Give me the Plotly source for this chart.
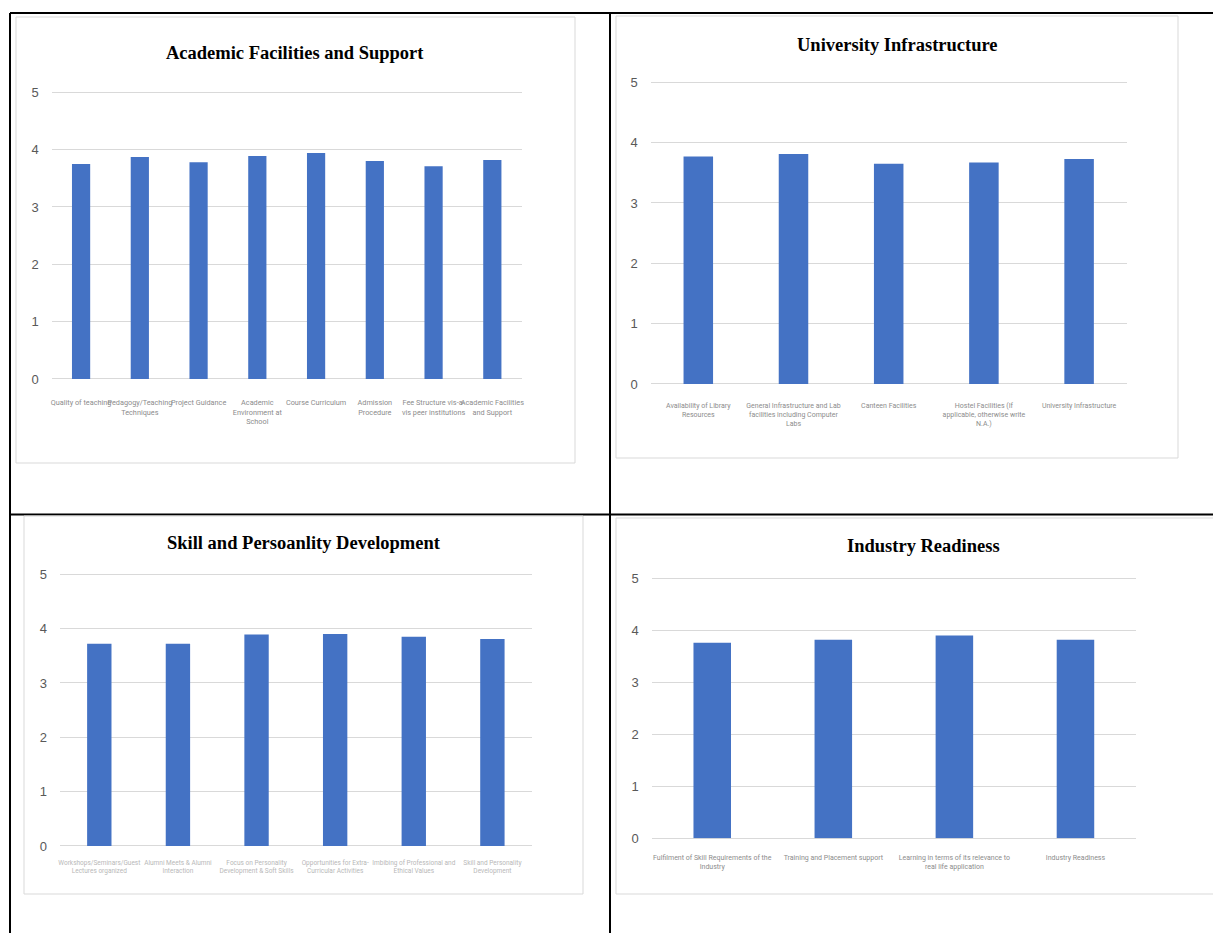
import plotly.graph_objects as go

W, H = 1221, 933
PAGE_MARGIN = 8  # the browser's default body margin shifts the figure by this much

# ---------------- data ----------------
academic_categories = ["Quality of teaching", "Pedagogy/Teaching Techniques", "Project Guidance",
                       "Academic Environment at School", "Course Curriculum", "Admission Procedure",
                       "Fee Structure vis-a-vis peer institutions", "Academic Facilities and Support"]
academic_ticks = ["Quality of teaching", "Pedagogy/Teaching<br>Techniques", "Project Guidance",
                  "Academic<br>Environment at<br>School", "Course Curriculum", "Admission<br>Procedure",
                  "Fee Structure vis-a-<br>vis peer institutions", "Academic Facilities<br>and Support"]
academic_values = [3.75, 3.87, 3.78, 3.89, 3.94, 3.80, 3.71, 3.82]

infra_categories = ["Availability of Library Resources",
                    "General Infrastructure and Lab facilities including Computer Labs",
                    "Canteen Facilities",
                    "Hostel Facilities (If applicable, otherwise write N.A.)",
                    "University Infrastructure"]
infra_ticks = ["Availability of Library<br>Resources",
               "General Infrastructure and Lab<br>facilities including Computer<br>Labs",
               "Canteen Facilities",
               "Hostel Facilities (If<br>applicable, otherwise write<br>N.A.)",
               "University Infrastructure"]
infra_values = [3.77, 3.81, 3.65, 3.67, 3.73]

skill_categories = ["Workshops/Seminars/Guest Lectures organized", "Alumni Meets & Alumni Interaction",
                    "Focus on Personality Development & Soft Skills",
                    "Opportunities for Extra-Curricular Activities",
                    "Imbibing of Professional and Ethical Values", "Skill and Personality Development"]
skill_ticks = ["Workshops/Seminars/Guest<br>Lectures organized", "Alumni Meets &amp; Alumni<br>Interaction",
               "Focus on Personality<br>Development &amp; Soft Skills",
               "Opportunities for Extra-<br>Curricular Activities",
               "Imbibing of Professional and<br>Ethical Values", "Skill and Personality<br>Development"]
skill_values = [3.72, 3.72, 3.89, 3.90, 3.85, 3.81]

industry_categories = ["Fulfilment of Skill Requirements of the Industry", "Training and Placement support",
                       "Learning in terms of its relevance to real life application", "Industry Readiness"]
industry_ticks = ["Fulfilment of Skill Requirements of the<br>Industry", "Training and Placement support",
                  "Learning in terms of its relevance to<br>real life application", "Industry Readiness"]
industry_values = [3.76, 3.82, 3.90, 3.82]

titles = ["Academic Facilities and Support", "University Infrastructure",
          "Skill and Persoanlity Development", "Industry Readiness"]
y_ticks = [0, 1, 2, 3, 4, 5]
Y_MAX = 5.04  # a hair above 5 so the top gridline is drawn

# ---------------- layout helpers ----------------
def X(px):
    return (px - PAGE_MARGIN) / W

def Y(py):
    return 1 - (py - PAGE_MARGIN) / H

BAR = "#4472C4"
GRID = "#d9d9d9"
XFONT = "Liberation Sans Narrow, Roboto, sans-serif"

panels = [
    dict(cats=academic_categories, ticks=academic_ticks, vals=academic_values, title=titles[0],
         plot=(51.7, 521.7, 92.3, 379), box=(16, 575, 17, 463), title_xy=(295, 53),
         tickcol="#8c8c8c", tsize=7.3, xstand=18, ystand=12),
    dict(cats=infra_categories, ticks=infra_ticks, vals=infra_values, title=titles[1],
         plot=(650.7, 1126.7, 82.3, 384), box=(616, 1178, 16, 458), title_xy=(897, 45),
         tickcol="#8c8c8c", tsize=7, xstand=16, ystand=12),
    dict(cats=skill_categories, ticks=skill_ticks, vals=skill_values, title=titles[2],
         plot=(60, 531.7, 574.3, 846), box=(24, 583, 516, 894), title_xy=(304, 543),
         tickcol="#b8b8b8", tsize=6.5, xstand=11, ystand=12),
    dict(cats=industry_categories, ticks=industry_ticks, vals=industry_values, title=titles[3],
         plot=(651.7, 1136, 578.3, 838.3), box=(616, 1218, 518, 894), title_xy=(923, 546),
         tickcol="#8c8c8c", tsize=7, xstand=14, ystand=12),
]

fig = go.Figure()
shapes = []
annotations = []

# table lines (drawn first so chart boxes can cover them)
LINE = dict(color="black", width=2)
shapes.append(dict(type="line", xref="paper", yref="paper", x0=X(10), x1=X(1240), y0=Y(13), y1=Y(13), line=LINE, layer="below"))
shapes.append(dict(type="line", xref="paper", yref="paper", x0=X(10), x1=X(10), y0=Y(13), y1=Y(950), line=LINE, layer="below"))
shapes.append(dict(type="line", xref="paper", yref="paper", x0=X(610), x1=X(610), y0=Y(13), y1=Y(950), line=LINE, layer="below"))
shapes.append(dict(type="line", xref="paper", yref="paper", x0=X(10), x1=X(1240), y0=Y(514.5), y1=Y(514.5), line=LINE, layer="below"))

layout_axes = {}
for i, p in enumerate(panels, start=1):
    xa = "x" if i == 1 else f"x{i}"
    ya = "y" if i == 1 else f"y{i}"
    fig.add_trace(go.Bar(x=p["cats"], y=p["vals"], marker=dict(color=BAR, line=dict(width=0)),
                         width=0.31, xaxis=xa, yaxis=ya, showlegend=False))
    x0, x1, y5, y0px = p["plot"]
    ytop = y0px - (y0px - y5) * Y_MAX / 5
    layout_axes[f"xaxis{'' if i == 1 else i}"] = dict(
        domain=[X(x0), X(x1)], anchor=ya, type="category", automargin=False,
        tickmode="array", tickvals=p["cats"], ticktext=p["ticks"],
        showgrid=False, zeroline=False, showline=False, ticks="",
        tickfont=dict(family=XFONT, size=p["tsize"], color=p["tickcol"]),
        ticklabelstandoff=p["xstand"], tickangle=0, fixedrange=True,
        range=[-0.5, len(p["cats"]) - 0.5])
    layout_axes[f"yaxis{'' if i == 1 else i}"] = dict(
        domain=[Y(y0px), Y(ytop)], anchor=xa, range=[0, Y_MAX], tickvals=y_ticks,
        automargin=False,
        showgrid=True, gridcolor=GRID, gridwidth=1, zeroline=True, zerolinecolor=GRID,
        zerolinewidth=1, showline=False, ticks="",
        tickfont=dict(family="Liberation Sans", size=13, color="#595959"),
        ticklabelstandoff=p["ystand"], fixedrange=True)
    bx0, bx1, by0, by1 = p["box"]
    shapes.append(dict(type="rect", xref="paper", yref="paper", x0=X(bx0), x1=X(bx1),
                       y0=Y(by1), y1=Y(by0), line=dict(color=GRID, width=1),
                       fillcolor="white", layer="below"))
    tx, ty = p["title_xy"]
    annotations.append(dict(text=f"<b>{p['title']}</b>", xref="paper", yref="paper",
                            x=X(tx), y=Y(ty), xanchor="center", yanchor="middle", showarrow=False,
                            font=dict(family="Liberation Serif", size=18.5, color="black")))

fig.update_layout(
    width=W, height=H, margin=dict(l=0, r=0, t=0, b=0, autoexpand=False),
    paper_bgcolor="white", plot_bgcolor="rgba(0,0,0,0)",
    shapes=shapes, annotations=annotations, showlegend=False,
    **layout_axes)

fig.write_html("out.html")
